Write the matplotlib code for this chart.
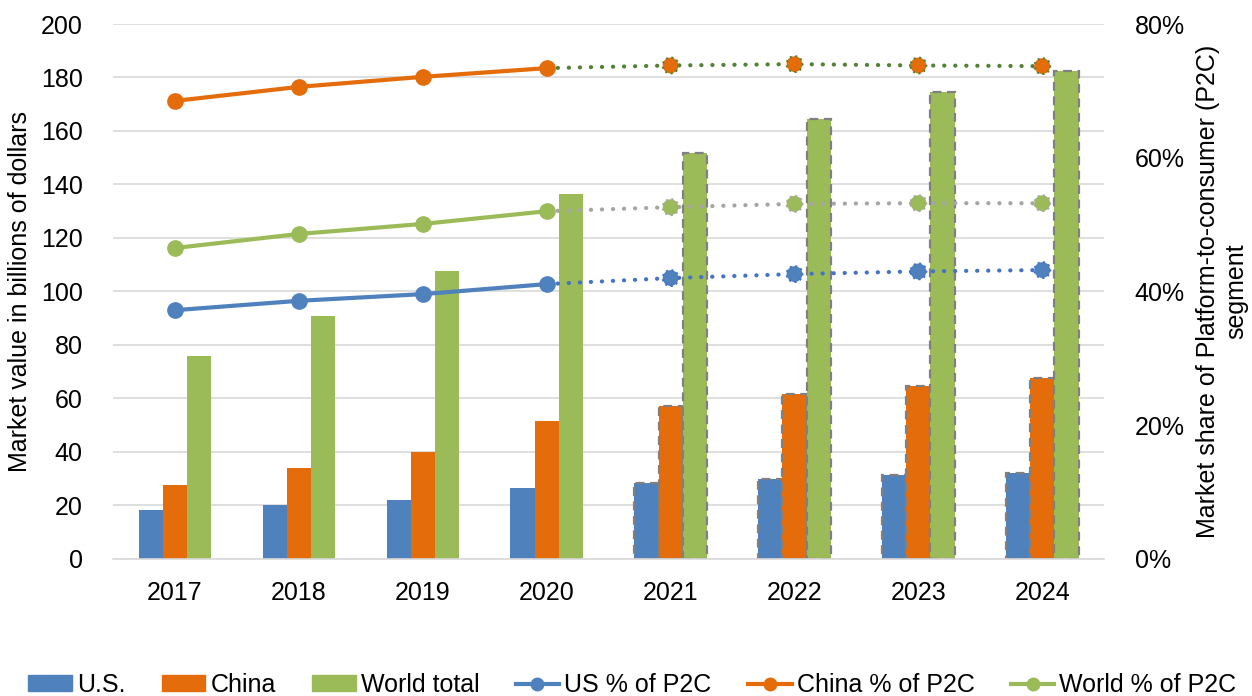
import numpy as np
import matplotlib.pyplot as plt
from matplotlib.lines import Line2D
from matplotlib.patches import Patch
from matplotlib.ticker import PercentFormatter

plt.rcParams['font.family'] = ['Liberation Sans', 'DejaVu Sans']

years = ['2017', '2018', '2019', '2020', '2021', '2022', '2023', '2024']
us_val = [18.3, 20, 22, 26.5, 28.5, 30, 31.5, 32]
china_val = [27.5, 34, 40, 51.5, 57, 61.5, 64.5, 67.5]
world_val = [76, 91, 107.5, 136.5, 151.7, 164.5, 174.5, 182.5]

us_pct = [37.2, 38.6, 39.6, 41.1, 42.0, 42.6, 43.0, 43.2]
china_pct = [68.5, 70.6, 72.1, 73.4, 73.8, 74.0, 73.8, 73.7]
world_pct = [46.5, 48.6, 50.1, 52.0, 52.6, 53.1, 53.2, 53.2]

n_actual = 4  # 2017-2020 actual, rest projected

c_us = '#4F81BD'
c_cn = '#E46C0A'
c_wd = '#9BBB59'
fs = 18

fig = plt.figure(figsize=(12.52, 6.96), dpi=100)
ax = fig.add_axes([0.0903, 0.197, 0.7917, 0.7685])
ax2 = ax.twinx()

x = np.arange(len(years))
w = 0.195
for off, vals, col in [(-w, us_val, c_us), (0, china_val, c_cn), (w, world_val, c_wd)]:
    bars = ax.bar(x + off, vals, w, color=col, zorder=2)
    for i, b in enumerate(bars):
        if i >= n_actual:
            b.set_edgecolor('#808080')
            b.set_linestyle((0, (4, 2.5)))
            b.set_linewidth(1.6)
        else:
            b.set_linewidth(0)

ax.set_ylim(0, 200)
ax.set_yticks(range(0, 201, 20))
ax.set_xlim(-0.5, len(years) - 0.5)
ax.set_xticks(x)
ax.set_xticklabels(years)
ax.grid(axis='y', color='#D9D9D9', lw=1.2, zorder=0)
ax.set_axisbelow(True)
for s in ['top', 'right', 'left']:
    ax.spines[s].set_visible(False)
ax.spines['bottom'].set_color('#D9D9D9')
ax.spines['bottom'].set_linewidth(1.2)
ax.tick_params(length=0, labelsize=fs, pad=16)
ax.tick_params(axis='y', pad=22)
ax.set_ylabel('Market value in billions of dollars', fontsize=fs, labelpad=6)

dot = (0, (0.05, 2.6))
series = [(us_pct, c_us, '#4472C4'), (world_pct, c_wd, '#A5A5A5'), (china_pct, c_cn, '#548235')]
for pct, col, dcol in series:
    ax2.plot(x[n_actual - 1:], pct[n_actual - 1:], color=dcol, lw=3, linestyle=dot,
             dash_capstyle='round', zorder=3)
    ax2.plot(x[:n_actual], pct[:n_actual], color=col, lw=3, marker='o', markersize=11,
             zorder=4, solid_capstyle='round')
    ax2.scatter(x[n_actual:], pct[n_actual:], s=130, color=col, edgecolors=dcol,
                linewidths=1.5, linestyle=':', zorder=5)

ax2.set_ylim(0, 80)
ax2.set_yticks(range(0, 81, 20))
ax2.yaxis.set_major_formatter(PercentFormatter(decimals=0))
for s in ax2.spines.values():
    s.set_visible(False)
ax2.tick_params(length=0, labelsize=fs, pad=22)
ax2.set_ylabel('Market share of Platform-to-consumer (P2C)\nsegment', fontsize=fs,
               labelpad=8)

handles = [Patch(color=c_us, label='U.S.'),
           Patch(color=c_cn, label='China'),
           Patch(color=c_wd, label='World total'),
           Line2D([], [], color=c_us, lw=3, marker='o', markersize=9, label='US % of P2C'),
           Line2D([], [], color=c_cn, lw=3, marker='o', markersize=9, label='China % of P2C'),
           Line2D([], [], color=c_wd, lw=3, marker='o', markersize=9, label='World % of P2C')]
fig.legend(handles=handles, loc='lower center', bbox_to_anchor=(0.505, -0.034), ncol=6,
           frameon=False, fontsize=fs, handlelength=1.75, handletextpad=0.2,
           columnspacing=1.45, handleheight=0.6)

fig.savefig('out.png', dpi=100)
